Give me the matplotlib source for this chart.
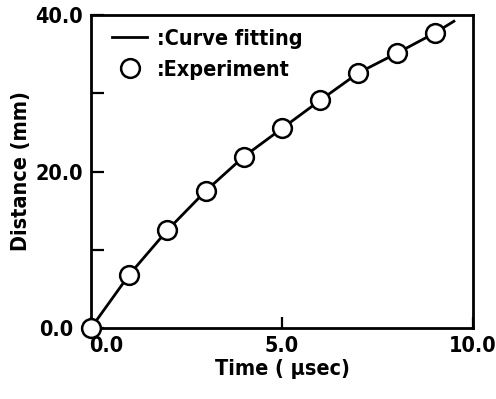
import matplotlib
matplotlib.use("Agg")
import matplotlib.pyplot as plt
import matplotlib.transforms as mtransforms
from matplotlib.lines import Line2D

# values
time_us = [0, 1, 2, 3, 4, 5, 6, 7, 8, 9]
distance_mm = [0.0, 6.8, 12.5, 17.5, 21.9, 25.5, 29.1, 32.6, 35.1, 37.7]
# fitted curve, same points plus its end beyond the last measurement
fit_t = [0, 1, 2, 3, 4, 5, 6, 7, 8, 9, 9.5]
fit_d = [0.0, 6.8, 12.5, 17.5, 21.9, 25.5, 29.1, 32.6, 35.1, 37.7, 39.2]

x_ticks = [0, 5, 10]
x_labels = ["0.0", "5.0", "10.0"]
y_ticks = [0, 20, 40]
y_labels = ["0.0", "20.0", "40.0"]

plt.rcParams["font.family"] = ["DejaVu Sans"]
font = dict(family="DejaVu Sans", stretch="condensed", weight="bold", size=15.5)

fig = plt.figure(figsize=(4.96, 3.99), dpi=100)
ax = fig.add_axes([91 / 496, 71 / 399, 382 / 496, 313 / 399])

ax.plot(fit_t, fit_d, color="black", lw=2.0, zorder=2)
ax.plot(time_us, distance_mm, "o", ms=13.5, mfc="white", mec="black", mew=1.8,
        clip_on=False, zorder=3)

ax.set_xlim(0, 10)
ax.set_ylim(0, 40)
for s in ax.spines.values():
    s.set_linewidth(2.0)

ax.set_xticks(x_ticks)
ax.set_xticklabels(x_labels, fontdict=font)
ax.set_yticks(y_ticks)
ax.set_yticklabels(y_labels, fontdict=font)
ax.set_yticks([10, 30], minor=True)
ax.tick_params(axis="both", which="both", direction="in", width=1.6)
ax.tick_params(axis="y", which="both", length=9, pad=6)
ax.tick_params(axis="x", which="both", length=8, pad=6)

# nudge the two origin labels away from the corner
xl0 = ax.get_xticklabels()[0]
xl0.set_transform(xl0.get_transform() + mtransforms.ScaledTranslation(15 / 100, 0, fig.dpi_scale_trans))
yl0 = ax.get_yticklabels()[0]
yl0.set_transform(yl0.get_transform() + mtransforms.ScaledTranslation(-9 / 100, 0, fig.dpi_scale_trans))

ax.set_xlabel("Time ( \u03bcsec)", fontdict=font, labelpad=2)
ax.set_ylabel("Distance (mm)", fontdict=font, labelpad=3)

handles = [Line2D([], [], color="black", lw=2.0),
           Line2D([], [], ls="none", marker="o", ms=13.5, mfc="white", mec="black", mew=1.8)]
leg = ax.legend(handles, [":Curve fitting", ":Experiment"], loc="upper left",
                bbox_to_anchor=(0.018, 1.0),
                frameon=False, prop=dict(family="DejaVu Sans", stretch="condensed",
                                         weight="bold", size=15.5),
                handlelength=1.65, handletextpad=0.45, labelspacing=0.5,
                borderaxespad=0.3, borderpad=0.35)

fig.savefig("out.png", dpi=100)
